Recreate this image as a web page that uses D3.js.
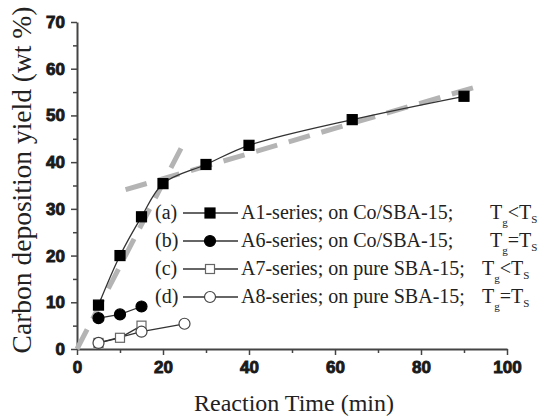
<!DOCTYPE html>
<meta charset="utf-8">
<script src="https://d3js.org/d3.v7.min.js"></script>
<style>
  body { margin: 0; background: #fff; }
</style>
<div id="chart"></div>
<script>

// data
var timeA1 = [5, 10, 15, 20, 30, 40, 64, 90];
var yieldA1 = [9.4, 20.0, 28.3, 35.4, 39.5, 43.6, 49.1, 54.1];
var timeA6 = [5, 10, 15];
var yieldA6 = [6.6, 7.4, 9.1];
var timeA7 = [5, 10, 15];
var yieldA7 = [1.3, 2.4, 5.0];
var timeA8 = [5, 15, 25];
var yieldA8 = [1.3, 3.7, 5.4];

// two linear fits (gray dashed)
var fit1 = [[0, 0], [24.5, 43.5]];
var fit2 = [[11.3, 34.1], [93.5, 56.3]];

var xTicks = [0, 20, 40, 60, 80, 100];
var yTicks = [0, 10, 20, 30, 40, 50, 60, 70];

var legendLabels = ["(a)", "(b)", "(c)", "(d)"];
var legendNames = ["A1-series; on Co/SBA-15;", "A6-series; on Co/SBA-15;",
                   "A7-series; on pure SBA-15;", "A8-series; on pure SBA-15;"];
var legendOps = ["<", "=", "<", "="];

var W = 544, H = 418;
var margin = {top: 22, right: 37, bottom: 69, left: 77};
var width = W - margin.left - margin.right,
    height = H - margin.top - margin.bottom;

var svg = d3.select("#chart").append("svg")
    .attr("width", W).attr("height", H);
var g = svg.append("g")
    .attr("transform", "translate(" + margin.left + "," + margin.top + ")");

var x = d3.scaleLinear().domain([0, 100]).range([0, width]);
var y = d3.scaleLinear().domain([0, 70]).range([height, 0]);

var axisColor = "#444";
var tickFont = "'Liberation Sans', Arial, sans-serif";
var serif = "'Liberation Serif', 'Times New Roman', serif";

// minor ticks
g.append("g")
    .attr("transform", "translate(0," + height + ")")
    .call(d3.axisBottom(x).tickValues(d3.range(10, 100, 20)).tickSize(4).tickFormat(""))
    .call(function (a) { a.select(".domain").remove(); a.selectAll("line").attr("stroke", axisColor).attr("stroke-width", 1.5); });
g.append("g")
    .call(d3.axisLeft(y).tickValues(d3.range(5, 70, 10)).tickSize(4).tickFormat(""))
    .call(function (a) { a.select(".domain").remove(); a.selectAll("line").attr("stroke", axisColor).attr("stroke-width", 1.5); });

// major axes
var xAxis = g.append("g")
    .attr("transform", "translate(0," + height + ")")
    .call(d3.axisBottom(x).tickValues(xTicks).tickSize(6).tickSizeOuter(0).tickPadding(6));
var yAxis = g.append("g")
    .call(d3.axisLeft(y).tickValues(yTicks).tickSize(6).tickSizeOuter(0).tickPadding(6));

[xAxis, yAxis].forEach(function (a) {
  a.attr("font-family", tickFont).attr("font-weight", "bold").attr("font-size", 17);
  a.select(".domain").attr("stroke", axisColor).attr("stroke-width", 2);
  a.selectAll("line").attr("stroke", axisColor).attr("stroke-width", 1.5);
  a.selectAll("text")
    .attr("fill", "#1a1a1a")
    .attr("stroke", "#1a1a1a")
    .attr("stroke-width", 0.9);
});

// axis titles
svg.append("text")
    .attr("x", margin.left + x(50) + 2)
    .attr("y", 411)
    .attr("text-anchor", "middle")
    .style("font-family", serif)
    .style("font-size", "24px")
    .attr("fill", "#222")
    .text("Reaction Time (min)");

svg.append("text")
    .attr("transform", "translate(31," + 180 + ") rotate(-90)")
    .attr("text-anchor", "middle")
    .style("font-family", serif)
    .style("font-size", "27.5px")
    .attr("fill", "#222")
    .text("Carbon deposition yield (wt %)");

// dashed fits
var line = d3.line().x(function (d) { return x(d[0]); }).y(function (d) { return y(d[1]); });
[fit1, fit2].forEach(function (f) {
  g.append("path")
    .attr("d", line(f))
    .attr("fill", "none")
    .attr("stroke", "#b4b4b4")
    .attr("stroke-width", 5)
    .attr("stroke-dasharray", "22,12");
});

function pts(xs, ys) { return xs.map(function (v, i) { return [v, ys[i]]; }); }

var smooth = d3.line().curve(d3.curveCatmullRom.alpha(0.5))
    .x(function (d) { return x(d[0]); }).y(function (d) { return y(d[1]); });

var series = [
  {data: pts(timeA1, yieldA1), shape: "square", fill: "#000", stroke: "#000", curve: smooth},
  {data: pts(timeA6, yieldA6), shape: "circle", fill: "#000", stroke: "#000", curve: line},
  {data: pts(timeA7, yieldA7), shape: "square", fill: "#fff", stroke: "#666", curve: line},
  {data: pts(timeA8, yieldA8), shape: "circle", fill: "#fff", stroke: "#444", curve: line}
];

series.forEach(function (s) {
  g.append("path")
    .attr("d", s.curve(s.data))
    .attr("fill", "none")
    .attr("stroke", "#333")
    .attr("stroke-width", 1.3);
});

function marker(sel, s) {
  if (s.shape === "square") {
    var sz = s.fill === "#000" ? 10 : 9;
    sel.append("rect")
      .attr("x", -sz / 2).attr("y", -sz / 2)
      .attr("width", sz).attr("height", sz)
      .attr("fill", s.fill).attr("stroke", s.stroke).attr("stroke-width", 1.2);
  } else {
    sel.append("circle")
      .attr("r", 5.5)
      .attr("fill", s.fill).attr("stroke", s.stroke).attr("stroke-width", 1.2);
  }
}

series.forEach(function (s) {
  g.append("g").selectAll("g")
    .data(s.data)
    .enter().append("g")
      .attr("transform", function (d) { return "translate(" + x(d[0]) + "," + y(d[1]) + ")"; })
      .each(function () { marker(d3.select(this), s); });
});

// legend
var leg = svg.append("g");
legendLabels.forEach(function (lab, i) {
  var ly = 213 + i * 28;
  var row = leg.append("g").attr("transform", "translate(0," + ly + ")");
  row.append("text").attr("x", 155).attr("y", 6)
    .style("font-family", serif).style("font-size", "20px").attr("fill", "#222").text(lab);
  row.append("line").attr("x1", 183).attr("x2", 238).attr("y1", 0).attr("y2", 0)
    .attr("stroke", "#333").attr("stroke-width", 1.3);
  marker(row.append("g").attr("transform", "translate(210,0)"), series[i]);
  row.append("text").attr("x", 241).attr("y", 6)
    .style("font-family", serif).style("font-size", "20px").attr("fill", "#222").text(legendNames[i]);
  var t = row.append("text").attr("x", i < 2 ? 490 : 482).attr("y", 6)
    .style("font-family", serif).style("font-size", "20px").attr("fill", "#222");
  t.append("tspan").text("T");
  t.append("tspan").attr("dy", 7).style("font-size", "11px").text("g");
  t.append("tspan").attr("dy", -7).text(legendOps[i] + "T");
  t.append("tspan").attr("dy", 4).style("font-size", "11px").text("S");
});

</script>
